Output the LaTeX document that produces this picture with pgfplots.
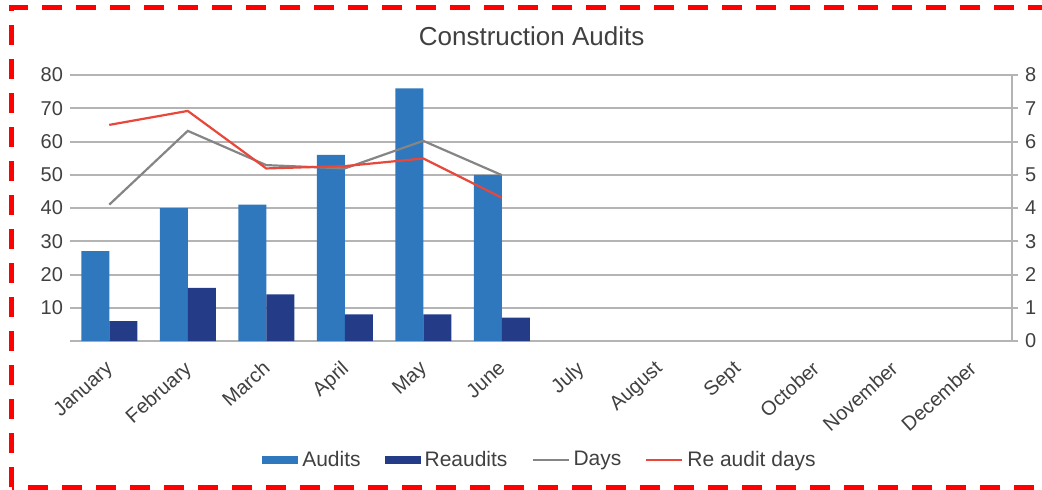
\documentclass[border=0pt]{standalone}
\usepackage{fontspec}
\setmainfont{Liberation Sans}
\usepackage{pgfplots}
\pgfplotsset{compat=1.18}
\definecolor{audits}{HTML}{2F78BD}
\definecolor{reaudits}{HTML}{243C88}
\definecolor{daysgray}{HTML}{858585}
\definecolor{redays}{HTML}{E8473A}
\definecolor{txt}{HTML}{404040}
\definecolor{gridc}{HTML}{B4B4B4}

\begin{document}
\begin{tikzpicture}
\useasboundingbox (-35pt,-74pt) rectangle (486pt,170.5pt);
\pgfplotsset{
  base/.style={
    at={(0pt,0pt)}, anchor=south west,
    width=471pt, height=133pt, scale only axis,
    xmin=-0.5, xmax=11.5,
    tick label style={font=\fontsize{10}{12}\selectfont, text=txt},
    /pgf/number format/assume math mode=true,
  },
}
\begin{axis}[
  base,
  clip=false,
  ymin=0, ymax=80,
  ybar=0pt, bar width=14pt,
  axis lines*=left,
  y axis line style={draw=none},
  x axis line style={draw=gridc, line width=1pt},
  xtick={0,...,11},
  xticklabels={January,February,March,April,May,June,July,August,Sept,October,November,December},
  x tick label style={rotate=42, anchor=north east, inner sep=2pt, xshift=-3pt},
  xtick style={draw=none},
  ytick={10,20,...,80},
  ytick style={draw=none},
  ymajorgrids, grid style={draw=gridc, line width=1pt},
  legend style={at={(0.5,-0.447)}, anchor=center, draw=none, fill=none,
    legend columns=4, font=\fontsize{10.5}{12}\selectfont, text=txt,
    /tikz/every even column/.append style={column sep=10pt}},
]
\node[anchor=base, font=\fontsize{13}{15}\selectfont, text=txt] at (rel axis cs:0.49,1) [yshift=15pt] {Construction Audits};
\addplot[fill=audits, draw=none,
  legend image code/.code={\fill[audits] (0pt,-2pt) rectangle (18pt,2pt);}]
  coordinates {(0,27) (1,40) (2,41) (3,56) (4,76) (5,50)};
\addlegendentry{Audits}
\addplot[fill=reaudits, draw=none,
  legend image code/.code={\fill[reaudits] (0pt,-2pt) rectangle (18pt,2pt);}]
  coordinates {(0,6) (1,16) (2,14) (3,8) (4,8) (5,7)};
\addlegendentry{Reaudits}
\addlegendimage{legend image code/.code={\draw[daysgray, line width=1pt] (0pt,0pt) -- (18pt,0pt);}}
\addlegendentry{Days}
\addlegendimage{legend image code/.code={\draw[redays, line width=1pt] (0pt,0pt) -- (18pt,0pt);}}
\addlegendentry{Re audit days}
\end{axis}
\begin{axis}[
  base,
  ymin=0, ymax=8,
  axis y line*=right, axis x line=none,
  y axis line style={draw=gridc, line width=1pt},
  ytick={0,...,8},
  ytick style={draw=gridc, line width=1pt},
  tick align=outside, major tick length=3pt,
]
\addplot[daysgray, line width=1.1pt] coordinates {(0,4.1) (1,6.32) (2,5.29) (3,5.19) (4,6.02) (5,4.99)};
\addplot[redays, line width=1.1pt] coordinates {(0,6.5) (1,6.92) (2,5.19) (3,5.26) (4,5.49) (5,4.31)};
\end{axis}
\draw[red, line width=2.5pt, dash pattern=on 10pt off 7pt] (-29pt,-73pt) rectangle (488pt,167pt);
\end{tikzpicture}
\end{document}
